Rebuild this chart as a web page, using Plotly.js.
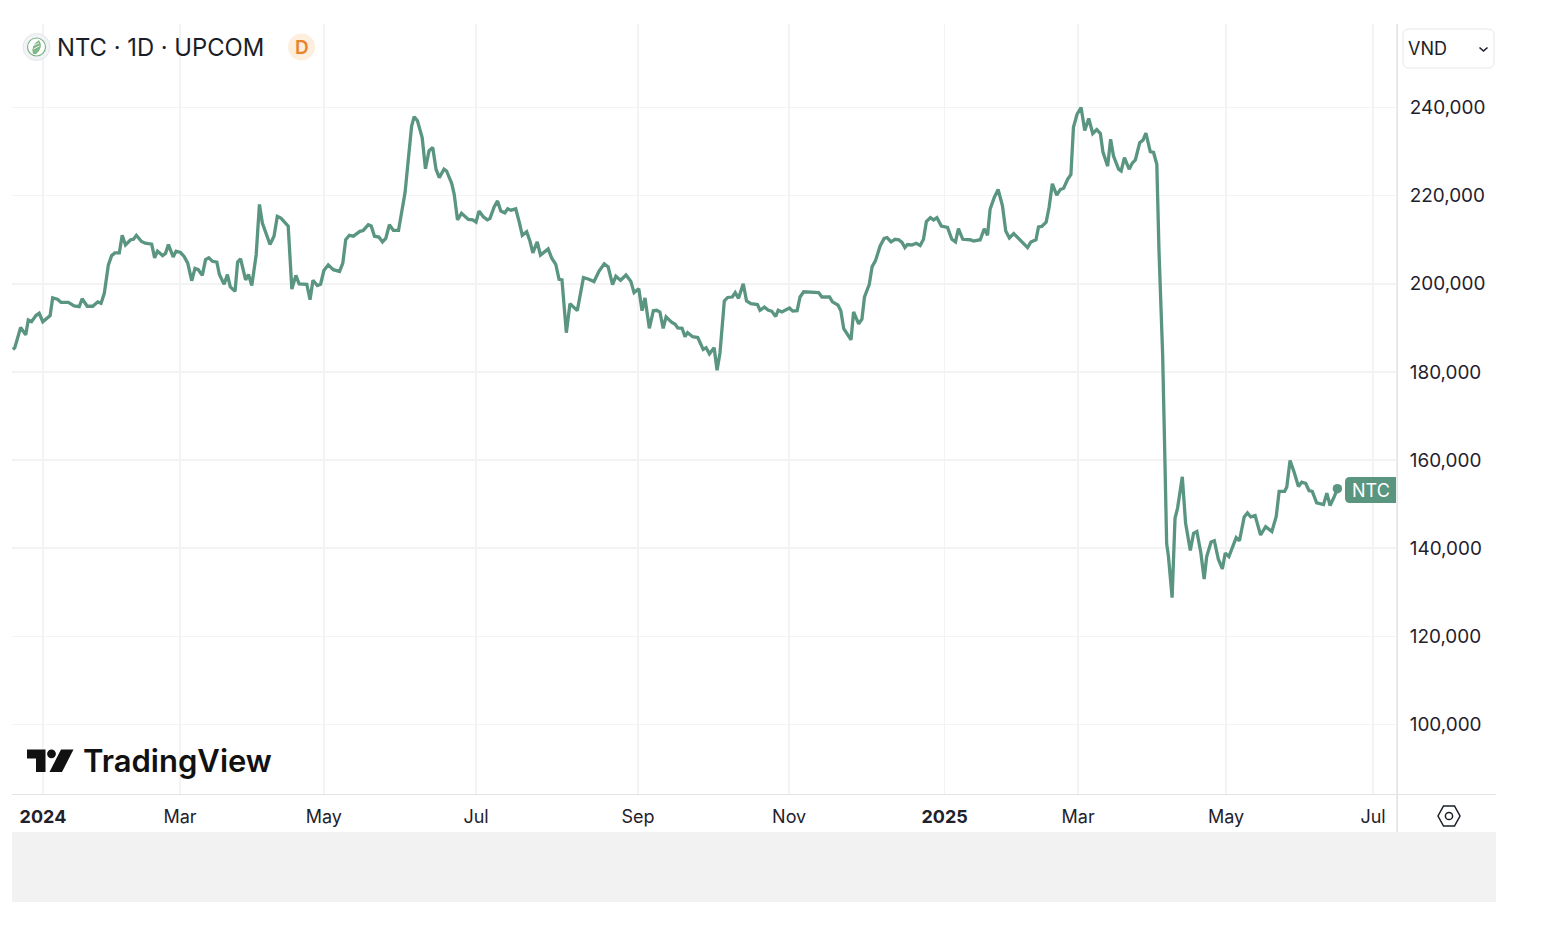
<!DOCTYPE html>
<html><head><meta charset="utf-8">
<script src="https://cdn.plot.ly/plotly-3.0.1.min.js"></script>
<style>html,body{margin:0;padding:0;background:#fff}#c{width:1544px;height:926px}</style></head>
<body><div id="c"></div>
<script>
const sessions = [
0,0.5,2.1,3.5,4.2,5.1,6.3,7.2,8.2,10.2,10.9,12.2,13.2,15.2,16.8,18.2,19,20.4,21.9,23.3,24.2,25.1,26.2,27.1,28,29.2,30,30.9,32.3,33.1,33.9,35.3,36.3,38.1,38.9,39.7,41.1,41.9,42.7,44,44.8,46,47,48,49.1,50,50.9,52,52.9,53.8,54.8,56,56.7,58,58.9,59.7,61,61.7,62.5,63.9,64.7,65.6,66.8,67.7,68.5,70.6,71.7,72.6,73.6,75.6,76.6,77.7,78.6,80.7,81.6,82.4,83.6,84.5,85.4,86.6,88,89.7,90.6,91.4,92.4,93.5,95.3,96.2,97.6,98.4,99.3,100.5,101.5,102.4,103.4,104.5,105.9,
107.7,108.6,109.5,110.2,111.1,112.4,113.3,114.3,115.3,116.2,117.1,118.4,119.1,120.5,121.2,122.1,123.2,125.1,126.3,127.2,128,129.2,130.3,131,132.2,133.1,134,135.1,135.9,136.8,138.1,139.1,139.9,141.1,142,142.8,144,144.9,147,148,149.1,150,150.8,152,153,155,156.7,158,159.6,161,162.4,163.5,164.7,165.6,166.9,168.4,169.7,170.6,171.9,172.8,173.6,174.8,175.9,176.8,177.7,178.6,179.4,180.9,181.9,182.6,183.8,184.6,185.3,186.7,188.1,189.6,190.4,191.3,192.6,193.4,194.2,195.4,196.3,197.6,198.4,199.3,200.6,201.5,202.7,204.5,205.2,206.4,207.5,208.4,209.5,210.2,211.2,213.3,214.2,215.4,216.2,
217.2,221.3,222.2,224.3,225.1,226.6,227.4,228.2,230.2,230.9,232.3,233.2,233.9,235.2,236,236.9,238.2,239.3,240.1,241.2,242.3,243.3,244.2,245,245.7,246.9,248.1,249.2,250.1,250.9,252,252.9,253.8,255,256.7,257.9,258.9,259.7,260.9,262.9,263.9,265.7,266.8,267.7,268.4,269.5,270.6,271.8,272.7,273.7,274.9,278.7,279.6,281,281.7,282.6,283.8,284.6,285.5,286.7,287.7,288.6,289.7,290.6,291.3,292.3,293.4,294.4,295.5,296.6,297.7,298.7,299.4,300.7,301.5,302.3,303.7,304.4,305.3,306.6,307.4,308.3,309.5,310.4,311.2,312.4,313.3,314.2,314.8,315.8,316.3,
316.9,317.4,318.4,319.2,319.9,321.2,322.1,323.4,324.3,325.2,326.3,327.2,327.9,329.1,330,331.1,332.2,333,334,336,336.9,338.2,339.1,340,341.2,342.7,344.1,345.8,347,347.8,349.3,349.9,350.8,351.9,353.1,354,355.1,356,356.9,358.1,360,360.9,361.8,363,363.8];
const closeK = [
185.1,185.5,190.1,188.4,191.8,191.4,192.8,193.3,191.4,192.8,196.8,196.5,195.8,195.8,195,194.8,196.6,194.9,194.9,195.9,195.6,197.9,204.3,206.4,207,207,211,208.8,210,210.1,211,209.6,209.2,209,205.9,207.4,206.4,206.9,208.9,206.1,207.4,207.1,206.2,204.7,200.7,203.5,203.2,201.9,205.5,205.9,205.1,204.9,202.1,199.9,202.1,199.3,198.3,204.9,205.7,200.9,202.1,199.6,206.6,218,213.8,208.9,210.8,215.3,214.9,213.1,198.8,201.9,200,199.9,196.4,200.8,199.6,199.9,203,204.3,203.2,202.8,204.7,210,211,210.8,211.9,212.1,213.4,213.1,210.8,210.6,209.5,210.3,213.4,212.1,212.1,
220.7,228.3,235.8,237.9,237,233.2,226.1,230.2,230.9,226,224.1,226,225.6,222.8,220.3,214.5,216,214.6,214.5,214,216.5,215.2,214.5,214.8,217.5,218.8,216.5,216.1,217,216.7,217,213.9,211,211.8,209.7,207,209.5,206.5,207.9,205.8,204.4,201,200.9,188.9,195.5,193.9,201.4,201.1,200.5,202.9,204.5,203.8,199.8,201.7,200.8,202,200.6,198,198.9,193.9,196.8,189.9,193.9,194,193.6,189.9,192.5,191.3,190.8,190,189.9,188,188.9,188,187.8,185.1,185.5,184.1,185.5,180.4,184.3,196.1,196.9,197,198,196.7,200,196.1,195.5,195.3,194,194.7,194,193.8,192.6,194,193.6,194.5,193.8,193.9,197,
198.2,198,197,197,195.9,195.2,193.9,189.8,187.3,193.6,190.9,192,197,199.8,203.9,205.2,208.6,210.3,210.5,209.5,210.1,210,209.4,208.2,208.9,208.8,209.2,208.7,210.1,214.1,215,214.5,215,213.1,212.8,210.1,209.5,212.5,210.1,210,209.7,210,212.5,211,216.9,219.5,221.4,217.7,212,210.4,211.4,208.2,209.5,210,212.9,213,214,217.3,222.7,220.1,221.4,221.7,223.7,224.8,235.5,238.5,240,234.8,237.5,234.1,235,234.1,229.9,226.7,232.8,229,226,225.6,228.6,226,227.3,228.1,232,232.6,234.2,230,229.8,227.1,207.4,183.9,164.7,
141.1,138.1,128.8,146.8,149.1,156.2,145.7,139.5,143.4,143.8,138.9,133,138.1,141.4,141.7,137.5,135.3,138.9,138.1,142.4,141.7,147.1,148,147.1,147.4,143,144.9,143.8,147.2,152.9,152.9,153.9,159.9,157.3,154,155,154.7,153.1,152.9,150.3,149.9,152.5,149.7,151.8,153.5];
const monthTickSessions = [8.24,45.9,85.4,127.2,171.7,213.2,255.9,292.6,333.2,373.6];
const monthTickLabels = ['<b>2024</b>','Mar','May','Jul','Sep','Nov','<b>2025</b>','Mar','May','Jul'];
const priceTicksK = [100,120,140,160,180,200,220,240];
const priceTickLabels = ['100,000','120,000','140,000','160,000','180,000','200,000','220,000','240,000'];

const LINE = '#5a9580', INK = '#1f222c', GRID = '#f3f3f5', EDGE = '#e3e3e6';
const L = 12, R = 1396, T = 24, B = 794, W = R-L, H = B-T;
const px = v => ((v-L)/W).toFixed(5), py = v => ((B-v)/H).toFixed(5);
const P = (x,y) => px(x)+','+py(y);
const pathOf = s => s.replace(/(-?[\d.]+),(-?[\d.]+)/g,(m,a,b)=>P(+a,+b));
const poly = (d,fill,line,lw) => ({type:'path',xref:'paper',yref:'paper',path:pathOf(d),fillcolor:fill||'rgba(0,0,0,0)',line:{color:line||'rgba(0,0,0,0)',width:lw||0},layer:'above'});
const rect = (x0,y0,x1,y1,fill,line,lw) => ({type:'rect',xref:'paper',yref:'paper',x0:+px(x0),x1:+px(x1),y0:+py(y1),y1:+py(y0),fillcolor:fill||'rgba(0,0,0,0)',line:{color:line||'rgba(0,0,0,0)',width:lw||0},layer:'above'});
const circ = (cx,cy,r,fill,line,lw) => ({type:'circle',xref:'paper',yref:'paper',x0:+px(cx-r),x1:+px(cx+r),y0:+py(cy+r),y1:+py(cy-r),fillcolor:fill||'rgba(0,0,0,0)',line:{color:line||'rgba(0,0,0,0)',width:lw||0},layer:'above'});
const text = (t,x,y,size,color,anchor,family) => ({text:t,xref:'paper',yref:'paper',x:+px(x),y:+py(y),xanchor:anchor||'left',yanchor:'middle',showarrow:false,font:{family:family||'Inter',size:size,color:color||INK}});

const shapes = [
  rect(12,794,1496,795,EDGE),
  rect(1396.4,24,1398,832,EDGE),
  rect(12,832,1496,902,'#f2f2f2'),
  circ(36.5,47,13.5,'#f2f3f7','#e3e5ea',1),
  circ(36.5,47,9,'#fff','#79b583',1.2),
  poly('M 33,54 Q 30,46 39,40 Q 44,48 36,54 Z','#7fb786'),
  poly('M 33.5,49 L 39.5,46',null,'#fff',0.8),
  poly('M 33.5,45.5 L 39,43',null,'#fff',0.8),
  circ(301.5,47,13.5,'#fdeedd'),
  poly('M 1409,29 L 1488,29 Q 1494,29 1494,35 L 1494,62 Q 1494,68 1488,68 L 1409,68 Q 1403,68 1403,62 L 1403,35 Q 1403,29 1409,29 Z','#fff','#e7e7ea',1),
  poly('M 1479.5,47.5 L 1483.5,51 L 1487.5,47.5',null,'#1b1e27',1.6),
  poly('M 27,749.5 L 45.5,749.5 L 45.5,772 L 36,772 L 36,758.5 L 27,758.5 Z','#111'),
  circ(51.5,753.8,4.4,'#111'),
  poly('M 61,749.5 L 73.5,749.5 L 62,772 L 49.5,772 Z','#111'),
  poly('M 1443.5,806 L 1454.5,806 L 1460,816 L 1454.5,826 L 1443.5,826 L 1438,816 Z',null,'#1b1e27',1.5),
  circ(1449,816,3.6,null,'#1b1e27',1.5),
  poly('M 1350,477 L 1396,477 L 1396,503 L 1350,503 Q 1345,503 1345,498 L 1345,482 Q 1345,477 1350,477 Z',LINE)
];
const annotations = [
  text('NTC · 1D · UPCOM',55,47.5,23.8,'#1b1e27'),
  text('D',301.5,47.5,19,'#e8852f','center'),
  text('VND',1406,48.5,18,'#1b1e27'),
  text('TradingView',81,761,31,'#111','left'),
  text('NTC',1371,490.5,18,'#ffffff','center')
];
annotations[1].font.weight = 600;
annotations[3].font.weight = 600;

Plotly.newPlot('c',[
  {type:'scatter',mode:'lines',x:sessions,y:closeK,line:{color:LINE,width:3.3,shape:'linear'},hoverinfo:'skip',cliponaxis:false},
  {type:'scatter',mode:'markers',x:[sessions[sessions.length-1]],y:[closeK[closeK.length-1]],marker:{color:LINE,size:9.5},hoverinfo:'skip',cliponaxis:false}
],{
  width:1544,height:926,autosize:false,showlegend:false,
  paper_bgcolor:'#fff',plot_bgcolor:'#fff',
  margin:{l:L,r:1544-R,t:T,b:926-B,pad:0},
  font:{family:'Inter',color:INK},
  xaxis:{range:[-0.27,379.9],tickmode:'array',tickvals:monthTickSessions,ticktext:monthTickLabels,showgrid:true,gridcolor:GRID,gridwidth:1.5,zeroline:false,showline:false,ticks:'outside',ticklen:6,tickcolor:'rgba(0,0,0,0)',tickfont:{family:'Inter',size:18,color:INK},fixedrange:true},
  yaxis:{range:[84.23,258.95],side:'right',tickmode:'array',tickvals:priceTicksK,ticktext:priceTickLabels,showgrid:true,gridcolor:GRID,gridwidth:1.5,zeroline:false,showline:false,ticks:'outside',ticklen:9,tickcolor:'rgba(0,0,0,0)',tickfont:{family:'Inter',size:18.9,color:INK},fixedrange:true},
  shapes,annotations
},{displayModeBar:false,staticPlot:true});
</script></body></html>
